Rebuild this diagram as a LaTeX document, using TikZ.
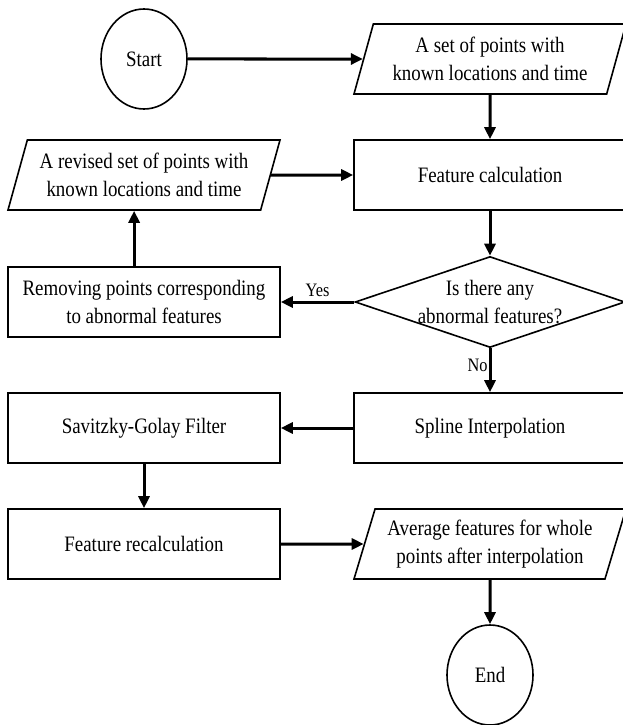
\documentclass[tikz,border=0pt]{standalone}
\usepackage{fontspec}
\setmainfont[FakeStretch=0.86]{Liberation Serif}
\usetikzlibrary{shapes.geometric, positioning, arrows.meta}
\tikzset{
    >={Triangle[length=12pt,width=11pt]}, % filled arrow heads
    terminal/.style={ellipse, draw, line width=1.6pt, minimum width=86pt, minimum height=100pt, inner sep=0pt},
    process/.style={rectangle, draw, line width=1.6pt, minimum width=272pt, minimum height=70pt, align=center},
    data/.style={trapezium, trapezium left angle=69, trapezium right angle=111, trapezium stretches body=true,
        draw, line width=1.6pt, minimum width=272pt, minimum height=70pt, align=center},
    decision/.style={diamond, draw, line width=1.6pt, minimum width=270pt, minimum height=91pt, inner sep=0pt},
    flow/.style={->, line width=3pt},
    answer/.style={font=\fontsize{19}{22}\selectfont}
}

\begin{document}
\begin{tikzpicture}[x=1pt, y=-1pt, every node/.style={font=\fontsize{22}{28}\selectfont}]
        \useasboundingbox (0,0) rectangle (623,725);

        \node[terminal] (start) at (144,59) {Start};
        \node[data] (known) [right of=start, node distance=346pt] {A set of points with\\known locations and time};
        \node[process] (calc) [below of=known, node distance=116pt] {Feature calculation};
        \node[data] (revised) [left of=calc, node distance=346pt] {A revised set of points with\\known locations and time};
        \node[decision, label={[align=center]center:Is there any\\abnormal features?}] (check) [below of=calc, node distance=127pt] {};
        \node[process] (remove) [left of=check, node distance=346pt] {Removing points corresponding\\to abnormal features};
        \node[process] (spline) [below of=check, node distance=126pt] {Spline Interpolation};
        \node[process] (filter) [left of=spline, node distance=346pt] {Savitzky-Golay Filter};
        \node[process] (recalc) [below of=filter, node distance=116pt] {Feature recalculation};
        \node[data] (average) [right of=recalc, node distance=346pt] {Average features for whole\\points after interpolation};
        \node[terminal] (end) [below of=average, node distance=131pt] {End};

        \draw[flow] (start) -- (known);
        \draw[flow] (known) -- (calc);
        \draw[flow] (revised) -- (calc);
        \draw[flow] (calc) -- (check);
        \draw[flow] (check.west) -- node[answer, above] {Yes} (remove.east);
        \draw[flow] (remove.north -| revised.bottom side) -- (revised.bottom side);
        \draw[flow] (check.south) -- node[answer, left, pos=0.4, inner sep=1pt] {No} (spline.north);
        \draw[flow] (spline) -- (filter);
        \draw[flow] (filter) -- (recalc);
        \draw[flow] (recalc) -- (average);
        \draw[flow] (average) -- (end);
    \end{tikzpicture}
\end{document}
